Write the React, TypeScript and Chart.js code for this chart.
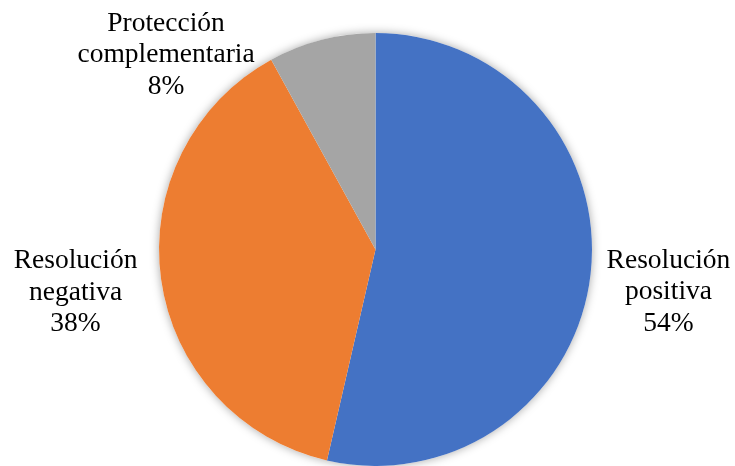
import { useEffect, useRef } from "react";
import { Chart, PieController, ArcElement } from "chart.js";

Chart.register(PieController, ArcElement);

const categories = ["Resolución positiva", "Resolución negativa", "Protección complementaria"];
const values = [53.6, 38.4, 8.0];
const colors = ["#4472C4", "#ED7D31", "#A5A5A5"];

const FONT = '27.5px "Liberation Serif", "Times New Roman", serif';
const LINE_H = 31.5;

const shadowPlugin = {
  id: "pieShadow",
  beforeDatasetsDraw(chart: any) {
    const arc = chart.getDatasetMeta(0).data[0];
    if (!arc) return;
    const { x, y, outerRadius } = arc.getProps(["x", "y", "outerRadius"], true);
    const ctx = chart.ctx;
    ctx.save();
    ctx.shadowColor = "rgba(0,0,0,0.35)";
    ctx.shadowBlur = 10;
    ctx.fillStyle = "#ffffff";
    ctx.beginPath();
    ctx.arc(x, y, outerRadius, 0, Math.PI * 2);
    ctx.fill();
    ctx.restore();
  },
};

const placement = [
  { dist: 79.5, shift: 1.75 },
  { dist: 86.5, shift: -0.2 },
  { dist: 69.4, shift: -32.7 },
];

const labelPlugin = {
  id: "pieLabels",
  afterDatasetsDraw(chart: any) {
    const meta = chart.getDatasetMeta(0);
    const data = chart.data.datasets[0].data as number[];
    const total = data.reduce((a, b) => a + b, 0);
    const ctx = chart.ctx;
    ctx.save();
    ctx.font = FONT;
    ctx.fillStyle = "#000000";
    ctx.textAlign = "center";
    ctx.textBaseline = "middle";
    meta.data.forEach((arc: any, i: number) => {
      const { x, y, startAngle, endAngle, outerRadius } = arc.getProps(
        ["x", "y", "startAngle", "endAngle", "outerRadius"],
        true
      );
      const p = placement[i];
      const mid = (startAngle + endAngle) / 2 + (p.shift * Math.PI) / 180;
      const d = outerRadius + p.dist;
      const cx = x + Math.cos(mid) * d;
      const cy = y + Math.sin(mid) * d;
      const label = chart.data.labels[i] as string;
      const lines = [...label.split(" "), Math.round((data[i] / total) * 100) + "%"];
      const top = cy - (lines.length * LINE_H) / 2;
      lines.forEach((ln, k) => {
        ctx.fillText(ln, cx, top + (k + 0.5) * LINE_H);
      });
    });
    ctx.restore();
  },
};

export default function App() {
  const ref = useRef<HTMLCanvasElement>(null);
  useEffect(() => {
    document.body.style.margin = "0";
    document.body.style.overflow = "hidden";
    const chart = new Chart(ref.current!, {
      type: "pie",
      data: {
        labels: categories,
        datasets: [
          {
            data: values,
            backgroundColor: colors,
            borderWidth: 0,
          },
        ],
      },
      options: {
        responsive: false,
        animation: false,
        layout: { padding: { top: 33, bottom: 0, left: 159, right: 143 } },
        plugins: { legend: { display: false }, tooltip: { enabled: false } },
      },
      plugins: [shadowPlugin, labelPlugin],
    });
    return () => chart.destroy();
  }, []);
  return (
    <div style={{ width: 735, height: 466, background: "#fff" }}>
      <canvas ref={ref} width={735} height={466} />
    </div>
  );
}
